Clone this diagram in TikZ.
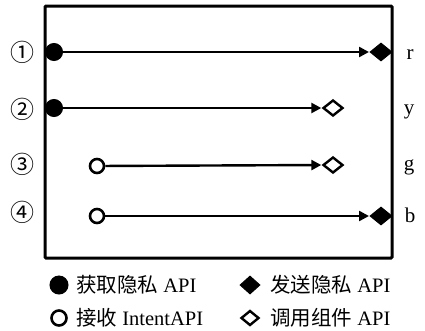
\documentclass[tikz,border=0pt]{standalone}
\usepackage{fontspec}
\setmainfont{Liberation Serif}
\newfontfamily\cjk{Noto Sans CJK SC}
\usetikzlibrary{shapes.geometric,arrows.meta}
\tikzset{
  fdot/.style={circle,fill=black,draw=black,line width=1pt,inner sep=0pt,minimum size=17pt},
  odot/.style={circle,fill=white,draw=black,line width=2.6pt,inner sep=0pt,minimum size=14pt},
  fdia/.style={diamond,fill=black,draw=black,line width=1pt,inner sep=0pt,minimum width=22pt,minimum height=18pt},
  odia/.style={diamond,fill=white,draw=black,line width=2.4pt,inner sep=0pt,minimum width=20pt,minimum height=16pt},
  flow/.style={line width=2.4pt,-{Triangle[length=10pt,width=10pt]},shorten >=0.5pt},
  num/.style={font=\cjk\fontsize{24}{26}\selectfont,inner sep=0pt},
  lab/.style={font=\fontsize{21}{22}\selectfont,inner sep=0pt,anchor=base},
  leg/.style={font=\fontsize{20.5}{22}\selectfont,inner sep=0pt,anchor=west},
}
\begin{document}
\begin{tikzpicture}[x=1pt,y=-1pt]
\useasboundingbox (0,0) rectangle (425,330);
\draw[line width=3pt,rounded corners=1pt] (45,6) rectangle (392,258);
% rows
\node[fdot] (s1) at (54,52) {};
\node[fdia] (e1) at (381,52) {};
\node[fdot] (s2) at (54,108) {};
\node[odia] (e2) at (333,108) {};
\node[odot] (s3) at (97,166) {};
\node[odia] (e3) at (333,165) {};
\node[odot] (s4) at (97,216) {};
\node[fdia] (e4) at (381,216) {};
\draw[flow] (s1) -- (e1.west);
\draw[flow] (s2) -- (e2.west);
\draw[flow] (s3) -- (e3.west);
\draw[flow] (s4) -- (e4.west);
% numbers
\node[num] (n1) at (22,52) {①};
\node[num] (n2) at (22,109) {②};
\node[num] (n3) at (22,164) {③};
\node[num] (n4) at (22,212) {④};
% right labels
\node[lab] (r) at (410,59) {r};
\node[lab] (y) at (409,114) {y};
\node[lab] (g) at (409,170) {g};
\node[lab] (b) at (410,222) {b};
% legend
\node[fdot,minimum size=18pt] (l1) at (59,285) {};
\node[leg] (t1) at (76,285) {{\cjk 获取隐私} API};
\node[odot,minimum size=15pt] (l2) at (59,318) {};
\node[leg] (t2) at (76,318) {{\cjk 接收} IntentAPI};
\node[fdia,minimum width=20pt,minimum height=18pt] (l3) at (250,285) {};
\node[leg] (t3) at (270,285) {{\cjk 发送隐私} API};
\node[odia,minimum width=18pt,minimum height=15pt] (l4) at (250,318) {};
\node[leg] (t4) at (270,318) {{\cjk 调用组件} API};
\end{tikzpicture}
\end{document}
